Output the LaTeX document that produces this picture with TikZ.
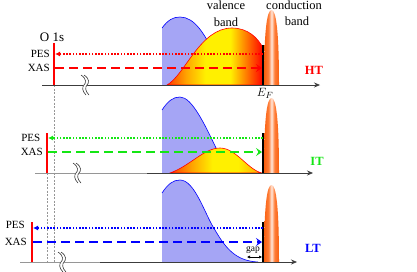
\documentclass[tikz,border=0pt]{standalone}
\usepackage{fontspec}
\setmainfont{Liberation Serif}
\usetikzlibrary{arrows.meta}
\definecolor{bandblue}{RGB}{165,165,245}
\definecolor{cbedge}{RGB}{250,95,15}
\definecolor{cbinner}{RGB}{255,125,55}
\definecolor{cbmid}{RGB}{255,232,220}
\definecolor{vbleft}{RGB}{255,60,0}
\definecolor{vborange}{RGB}{255,165,0}
\definecolor{vbyellow}{RGB}{255,240,0}
\definecolor{ggreen}{RGB}{20,230,20}
\definecolor{axisgray}{RGB}{60,60,60}
\definecolor{lightax}{RGB}{150,150,150}
\pgfdeclarehorizontalshading{cbshade}{100bp}{color(0bp)=(cbedge); color(25bp)=(cbedge); color(40bp)=(cbinner); color(50bp)=(cbmid); color(60bp)=(cbinner); color(75bp)=(cbedge); color(100bp)=(cbedge)}
\pgfdeclarehorizontalshading{vbshadeA}{100bp}{color(0bp)=(vbleft); color(25bp)=(vbleft); color(35bp)=(vborange); color(45bp)=(vbyellow); color(58bp)=(vbyellow); color(75bp)=(red); color(100bp)=(red)}
\pgfdeclarehorizontalshading{vbshadeB}{100bp}{color(0bp)=(vbleft); color(25bp)=(vbleft); color(37bp)=(vborange); color(48bp)=(vbyellow); color(62bp)=(vbyellow); color(75bp)=(vborange); color(100bp)=(vborange)}
\tikzset{
  lbl/.style={font=\fontsize{11}{11}\selectfont, inner sep=0pt},
  bigl/.style={font=\fontsize{12.5}{12.5}\selectfont, inner sep=0pt, anchor=base},
  tlab/.style={font=\fontsize{12.5}{12.5}\selectfont\bfseries, inner sep=0pt},
  pesline/.style={line width=1.6pt, dash pattern=on 1.6pt off 1.6pt, -{Latex[length=5pt,width=5pt]}},
  xasline/.style={line width=2.6pt, dash pattern=on 9pt off 5pt, -{Stealth[length=6pt,width=8pt,inset=2.5pt]}},
  coreline/.style={red, line width=1.6pt},
  efline/.style={black, line width=1.6pt},
  axline/.style={axisgray, line width=0.7pt},
  guide/.style={lightax, dashed, line width=0.5pt, dash pattern=on 2pt off 1.5pt},
  cband/.style={shading=cbshade},
  vband/.style={shading=vbshadeA, draw=red, line width=0.6pt},
  vbandb/.style={shading=vbshadeB, draw=red, line width=0.6pt},
  axbreak/.pic={
    \draw[white, line width=3pt] (-2.5,-10) .. controls (3.5,-6) and (2.5,-2) .. (0.5,0) .. controls (-1.5,2) and (-1.5,6) .. (2.5,10);
    \draw[axisgray, line width=0.6pt] (-4,-10) .. controls (2,-6) and (1,-2) .. (-1,0) .. controls (-3,2) and (-3,6) .. (1,10);
    \draw[axisgray, line width=0.6pt] (-1,-10) .. controls (5,-6) and (4,-2) .. (2,0) .. controls (0,2) and (0,6) .. (4,10);
  }
}
\begin{document}
\begin{tikzpicture}[x=1pt,y=-1pt]
\useasboundingbox (0,0) rectangle (417,271);
\fill[white] (0,0) rectangle (417,271);

% guides
\draw[guide] (54,85) -- (54,262);
\draw[guide] (47,173) -- (47,262);

%%%%% Panel 1 (HT)
\fill[bandblue] (162,85) -- (162,28) .. controls (168,20) and (173,17) .. (180,17) .. controls (195,17) and (205,35) .. (215,55) .. controls (228,78) and (238,85) .. (252,85) -- cycle;
\draw[blue, line width=0.6pt] (162,28) .. controls (168,20) and (173,17) .. (180,17) .. controls (195,17) and (205,35) .. (215,55);
\shadedraw[vband] (167,85) .. controls (185,75) and (200,28) .. (232,28) .. controls (248,28) and (258,38) .. (263,48) -- (263,85) -- cycle;
\shade[cband] (264,85) .. controls (264,30) and (267,10) .. (271.5,10) .. controls (276,10) and (279,30) .. (279,85) -- cycle;
\draw[axline, -{Stealth[length=6pt,width=5pt]}] (42,85) -- (320,85);
\pic at (85,85) {axbreak};
\coordinate (ef1t) at (263,45); \coordinate (ef1b) at (263,85);
\draw[efline] (ef1t) -- (ef1b);
\coordinate (c1t) at (54,43); \coordinate (c1b) at (54,85);
\draw[coreline] (c1t) -- (c1b);
\node[font=\fontsize{13}{13}\selectfont, inner sep=0pt] (o1s) at (52,37) {O 1s};
\node[lbl, anchor=east] (pes1) at (50,54) {PES};
\node[lbl, anchor=east] (xas1) at (50,68) {XAS};
\coordinate (p1r) at (263,54); \coordinate (p1l) at (55,54);
\coordinate (x1l) at (55,68); \coordinate (x1r) at (262,68);
\draw[pesline, red] (p1r) -- (p1l);
\draw[xasline, red] (x1l) -- (x1r);
\node[tlab, red] (ht) at (314,70) {HT};
\node[bigl] (val) at (226,9.5) {valence};
\node[bigl] (vb) at (226,26) {band};
\node[bigl] (cond) at (294,9.5) {conduction};
\node[bigl] (cb) at (297,25.5) {band};
\node[font=\fontsize{12.5}{12.5}\selectfont, inner sep=0pt, anchor=base] (ef) at (265,96) {$E_F$};

%%%%% Panel 2 (IT)
\fill[bandblue] (162,173) -- (162,110) .. controls (168,101) and (173,97) .. (180,97) .. controls (192,97) and (205,125) .. (217,150) .. controls (226,166) and (236,173) .. (250,173) -- cycle;
\draw[blue, line width=0.6pt] (162,110) .. controls (168,101) and (173,97) .. (180,97) .. controls (192,97) and (205,125) .. (217,150) .. controls (226,166) and (236,173) .. (250,173);
\shadedraw[vbandb] (170,173) .. controls (190,166) and (204,148) .. (220,148) .. controls (236,148) and (248,170) .. (262,173) -- cycle;
\shade[cband] (264,173) .. controls (264,118) and (267,98) .. (271.5,98) .. controls (276,98) and (279,118) .. (279,173) -- cycle;
\draw[lightax, line width=0.7pt] (35,173) -- (147,173);
\draw[axline, -{Stealth[length=6pt,width=5pt]}] (147,173) -- (313,173);
\pic at (77,173) {axbreak};
\coordinate (ef2t) at (263,133); \coordinate (ef2b) at (263,173);
\draw[efline] (ef2t) -- (ef2b);
\coordinate (c2t) at (47,133); \coordinate (c2b) at (47,173);
\draw[coreline] (c2t) -- (c2b);
\node[lbl, anchor=east] (pes2) at (40.5,138) {PES};
\node[lbl, anchor=east] (xas2) at (43,152) {XAS};
\coordinate (p2r) at (263,138); \coordinate (p2l) at (48,138);
\coordinate (x2l) at (48,152); \coordinate (x2r) at (262,152);
\draw[pesline, ggreen] (p2r) -- (p2l);
\draw[xasline, ggreen] (x2l) -- (x2r);
\node[tlab, ggreen] (it) at (317,161) {IT};

%%%%% Panel 3 (LT)
\fill[bandblue] (162,262) -- (162,193) .. controls (168,184) and (173,180) .. (180,180) .. controls (195,180) and (205,215) .. (215,230) .. controls (225,247) and (235,261) .. (258,262) -- cycle;
\draw[blue, line width=0.6pt] (162,193) .. controls (168,184) and (173,180) .. (180,180) .. controls (195,180) and (205,215) .. (215,230) .. controls (225,247) and (235,261) .. (258,262);
\shade[cband] (264,262) .. controls (264,205) and (267,185) .. (271.5,185) .. controls (276,185) and (279,205) .. (279,262) -- cycle;
\draw[lightax, line width=0.7pt] (20,262) -- (100,262);
\draw[axline, -{Stealth[length=6pt,width=5pt]}] (100,262) -- (297,262);
\pic at (62,262) {axbreak};
\coordinate (ef3t) at (263,222); \coordinate (ef3b) at (263,262);
\draw[efline] (ef3t) -- (ef3b);
\coordinate (c3t) at (32,222); \coordinate (c3b) at (32,262);
\draw[coreline] (c3t) -- (c3b);
\node[lbl, anchor=east] (pes3) at (25,225) {PES};
\node[lbl, anchor=east] (xas3) at (27,242) {XAS};
\coordinate (p3r) at (263,228); \coordinate (p3l) at (33,228);
\coordinate (x3l) at (33,242); \coordinate (x3r) at (262,242);
\draw[pesline, blue] (p3r) -- (p3l);
\draw[xasline, blue] (x3l) -- (x3r);
\node[tlab, blue] (lt) at (313,248) {LT};
\node[font=\fontsize{9.5}{9.5}\selectfont, inner sep=0pt] (gap) at (253,250) {gap};
\coordinate (g1) at (247,257); \coordinate (g2) at (262,257);
\draw[black, line width=0.5pt, {Latex[length=3pt,width=3pt]}-{Latex[length=3pt,width=3pt]}] (g1) -- (g2);
\end{tikzpicture}
\end{document}
